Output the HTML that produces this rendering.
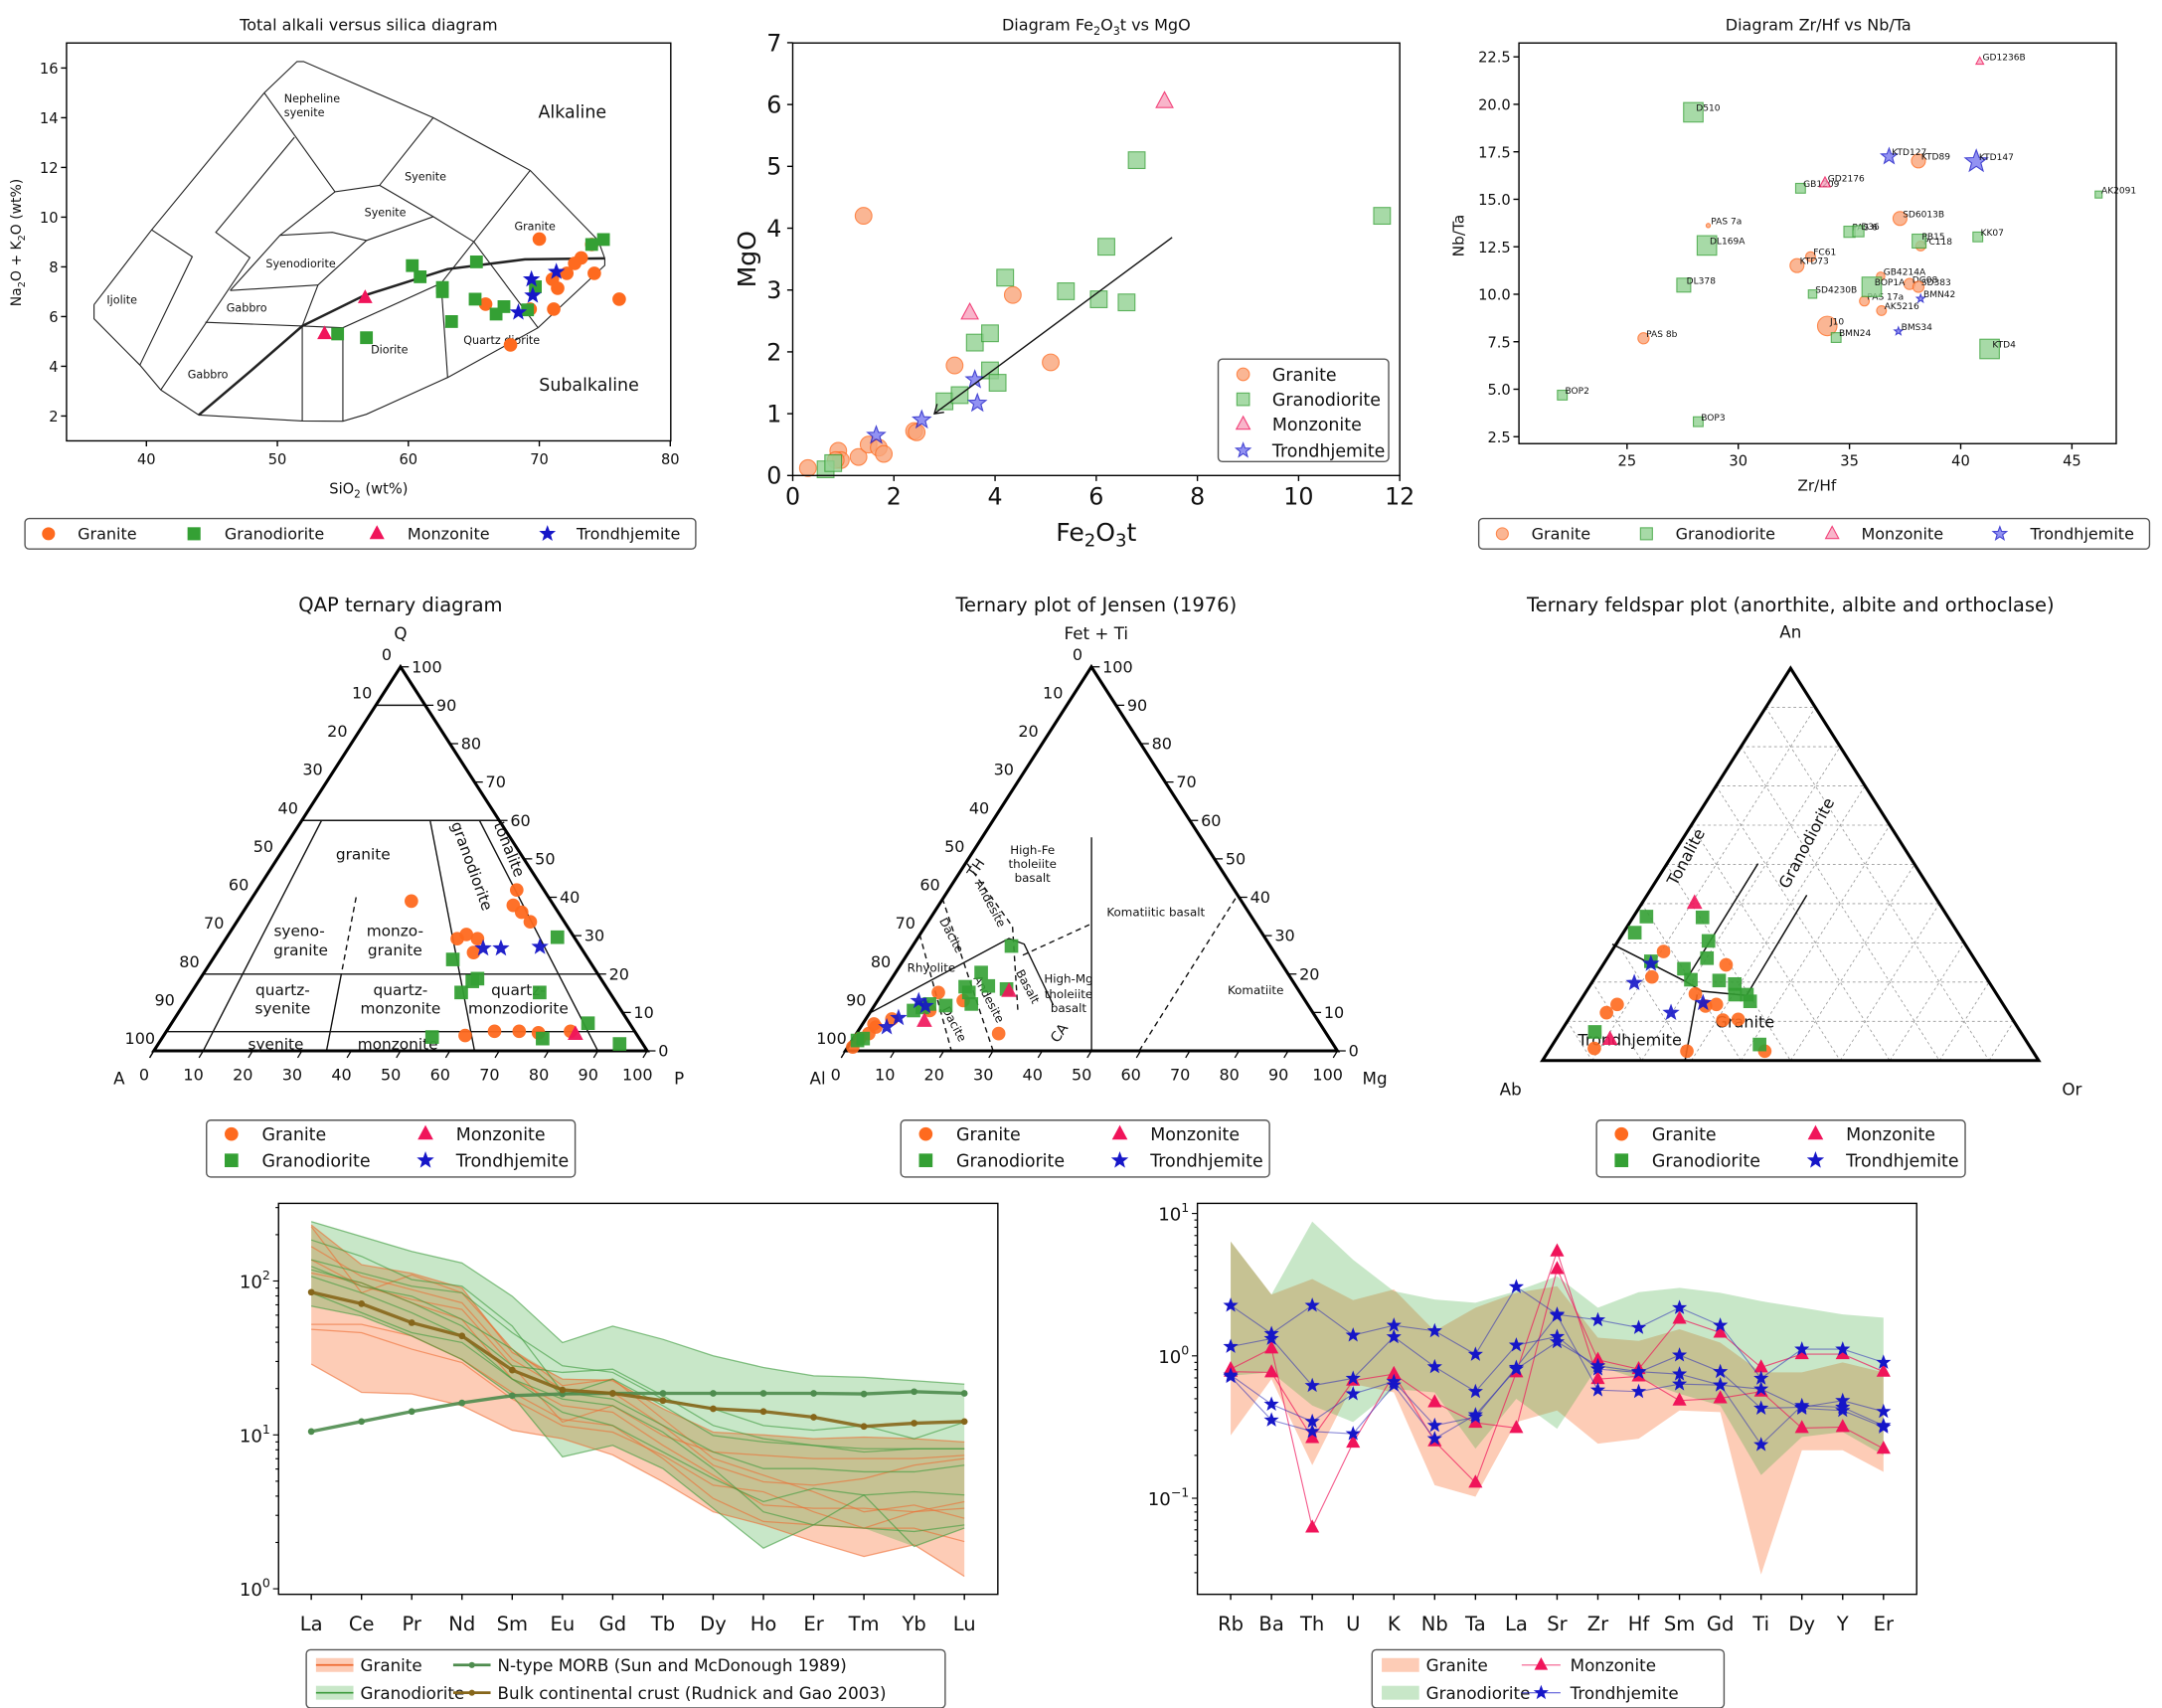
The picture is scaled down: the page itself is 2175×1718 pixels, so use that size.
<!DOCTYPE html>
<html><head><meta charset="utf-8">
<style>
html,body{margin:0;padding:0;background:#fff}
svg{display:block}
text{font-family:"DejaVu Sans","Liberation Sans",sans-serif;fill:#111}
</style></head>
<body>
<svg id="fig" xmlns="http://www.w3.org/2000/svg" width="2175" height="1718" viewBox="0 0 1560 1232" preserveAspectRatio="none"></svg>
<script>
/* ---------------- DATA ---------------- */
// TAS
const tasGraniteSi = [70.0,73.2,72.7,72.1,74.2,71.0,71.4,65.9,69.3,71.1,76.1,67.8,74.0];
const tasGraniteAlk = [9.12,8.36,8.14,7.74,7.74,7.5,7.14,6.5,6.3,6.3,6.7,4.86,8.9];
const tasGranodSi = [74.9,74.0,60.3,60.9,65.2,62.6,62.6,65.1,67.3,66.7,69.1,69.7,63.3,54.6,56.8];
const tasGranodAlk = [9.1,8.9,8.05,7.6,8.2,7.17,7.0,6.7,6.4,6.1,6.27,7.2,5.8,5.3,5.15];
const tasMonzSi = [56.7,53.6];
const tasMonzAlk = [6.75,5.3];
const tasTrondSi = [69.4,71.3,69.5,68.4];
const tasTrondAlk = [7.5,7.8,6.85,6.17];
const tasXTicks = [40,50,60,70,80];
const tasYTicks = [2,4,6,8,10,12,14,16];
// Fe2O3t vs MgO
const fmGraniteFe = [0.3,0.9,0.95,1.3,1.5,1.7,1.8,1.4,2.4,2.45,3.2,4.35,5.1,0.85];
const fmGraniteMg = [0.12,0.4,0.25,0.3,0.5,0.45,0.35,4.2,0.72,0.7,1.78,2.92,1.83,0.25];
const fmGranodFe = [0.65,0.8,3.0,3.3,3.6,3.9,3.9,4.05,4.2,5.4,6.05,6.2,6.6,6.8,11.65];
const fmGranodMg = [0.1,0.2,1.2,1.3,2.15,2.3,1.7,1.5,3.2,2.98,2.85,3.7,2.8,5.1,4.2];
const fmMonzFe = [3.5,7.35];
const fmMonzMg = [2.63,6.05];
const fmTrondFe = [1.65,2.55,3.6,3.65];
const fmTrondMg = [0.65,0.9,1.55,1.17];
const fmXTicks = [0,2,4,6,8,10,12];
const fmYTicks = [0,1,2,3,4,5,6,7];
// Zr/Hf vs Nb/Ta
const zhGraniteX = [38.1,37.27,28.65,38.2,33.25,32.64,36.4,37.7,38.1,35.67,36.44,34.0,25.74];
const zhGraniteY = [17.02,13.99,13.62,12.54,11.98,11.51,10.95,10.54,10.39,9.64,9.14,8.33,7.68];
const zhGraniteLab = ["KTD89","SD6013B","PAS 7a","PC118","FC61","KTD73","GB4214A","DG08","SD383","PAS 17a","AK5216","J10","PAS 8b"];
const zhGraniteSize = [5,5,1.5,3.5,3.5,5,3,4,4,3.5,3.5,7,4];
const zhGranodX = [27.98,32.8,46.2,35.0,35.4,40.77,28.59,38.13,27.55,36.0,33.34,34.4,41.3,22.09,28.2];
const zhGranodY = [19.58,15.58,15.25,13.29,13.32,13.02,12.57,12.8,10.48,10.39,10.01,7.72,7.12,4.69,3.29];
const zhGranodLab = ["D510","GB1209","AK2091","PAS 6","D36","KK07","DL169A","PB15","DL378","BOP1A","SD4230B","BMN24","KTD4","BOP2","BOP3"];
const zhGranodSize = [7,3.5,2.5,4,4,3.5,7,5,5,7,3,3.5,7,3.5,3.5];
const zhMonzX = [40.86,33.9];
const zhMonzY = [22.26,15.86];
const zhMonzLab = ["GD1236B","GD2176"];
const zhMonzSize = [2.5,3.5];
const zhTrondX = [36.78,40.7,38.2,37.2];
const zhTrondY = [17.25,16.99,9.77,8.05];
const zhTrondLab = ["KTD127","KTD147","BMN42","BMS34"];
const zhTrondSize = [5,7,2.5,2.5];
const zhXTicks = [25,30,35,40,45];
const zhYTicks = [2.5,5.0,7.5,10.0,12.5,15.0,17.5,20.0,22.5];
// QAP (Q %, P %)
const qapGraniteQ = [39.0,29.2,30.3,29.2,25.6,41.9,37.9,36.1,33.6,4.0,5.1,5.1,4.7,5.1];
const qapGraniteP = [32.7,46.9,48.2,51.0,52.0,52.6,53.9,56.5,59.5,61.1,66.5,71.5,75.6,81.9];
const qapGranodQ = [23.8,18.1,18.8,15.2,29.6,15.2,7.2,3.2,3.6,1.8];
const qapGranodP = [48.7,55.5,56.2,54.7,67.0,70.6,84.4,77.2,54.6,93.5];
const qapMonzQ = [4.3];
const qapMonzP = [83.3];
const qapTrondQ = [26.7,26.7,27.1];
const qapTrondP = [53.4,57.0,64.7];
// Jensen (Fet+Ti %, Mg %)
const jenGraniteT = [1.0,3.2,4.5,6.2,7.0,8.3,15.2,13.1,10.5,4.5];
const jenGraniteM = [1.0,1.3,2.5,3.1,2.3,5.3,11.3,17.4,11.9,28.9];
const jenGranodT = [2.7,3.2,10.5,12.2,11.8,16.7,15.2,12.2,20.4,16.9,16.1,27.3,11.3];
const jenGranodM = [1.1,2.0,8.6,11.0,14.5,16.0,17.5,19.5,17.4,20.6,24.7,20.1,10.0];
const jenMonzT = [15.5,7.7];
const jenMonzM = [25.5,12.2];
const jenTrondT = [6.2,8.6,13.0,11.7];
const jenTrondM = [5.3,6.5,8.4,10.4];
// Feldspar (An %, Or %)
const fspGraniteAn = [27.8,24.4,21.3,17.0,13.9,14.3,14.3,12.2,10.3,10.5,3.1,2.4,2.4];
const fspGraniteOr = [10.5,24.8,11.4,22.3,25.9,27.9,7.9,6.8,31.2,34.2,8.9,27.9,43.6];
const fspGranodAn = [36.7,32.6,36.5,30.5,26.1,23.4,20.6,25.3,20.4,19.5,16.8,16.8,15.1,7.3,4.1];
const fspGranodOr = [2.6,2.3,14.0,18.2,20.1,16.8,19.6,9.2,25.4,29.0,30.4,32.8,34.3,6.9,41.7];
const fspMonzAn = [40.1,5.4];
const fspMonzOr = [10.6,10.9];
const fspTrondAn = [24.7,19.8,14.7,12.2];
const fspTrondOr = [9.5,8.6,25.0,19.8];
// REE spider (log10 of chondrite-normalised values)
const reeElements = ["La","Ce","Pr","Nd","Sm","Eu","Gd","Tb","Dy","Ho","Er","Tm","Yb","Lu"];
const reeGranite1 = [2.364,2.106,2.05,1.955,1.535,1.363,1.352,1.17,1.018,1.0,0.975,0.986,0.975,0.954];
const reeGranite2 = [1.46,1.276,1.266,1.19,1.03,0.975,0.87,0.695,0.5,0.415,0.307,0.21,0.286,0.081];
const reeGranite3 = [1.718,1.718,1.643,1.49,1.276,1.10,1.06,0.846,0.587,0.437,0.415,0.394,0.394,0.307];
const reeGranite4 = [1.686,1.664,1.557,1.47,1.233,1.06,1.018,0.867,0.673,0.63,0.5,0.394,0.5,0.566];
const reeGranite5 = [2.138,1.966,1.88,1.815,1.449,1.083,1.19,0.996,0.889,0.867,0.846,0.846,0.846,0.867];
const reeGranite6 = [2.354,1.923,2.04,1.923,1.557,1.32,1.363,1.104,0.846,0.738,0.63,0.5,0.544,0.458];
const reeGranite7 = [2.052,1.988,1.858,1.75,1.363,1.19,1.147,0.932,0.738,0.544,0.523,0.523,0.5,0.523];
const reeGranite8 = [2.224,2.03,1.944,1.858,1.49,1.298,1.276,1.06,0.803,0.695,0.673,0.716,0.803,0.846];
const reeGranod1 = [2.386,2.289,2.192,2.117,1.901,1.6,1.707,1.621,1.514,1.438,1.384,1.374,1.352,1.33];
const reeGranod2 = [1.837,1.772,1.643,1.49,1.255,0.857,0.932,0.781,0.523,0.264,0.415,0.609,0.275,0.394];
const reeGranod3 = [2.138,2.052,1.966,1.923,1.664,1.449,1.406,1.233,1.17,1.061,1.03,1.061,0.975,1.083];
const reeGranod4 = [2.073,1.988,1.858,1.707,1.449,1.406,1.427,1.255,1.061,0.975,0.932,0.889,0.91,0.91];
const reeGranod5 = [1.923,1.794,1.664,1.6,1.363,1.147,1.061,0.889,0.716,0.566,0.652,0.609,0.63,0.609];
const reeGranod6 = [2.267,2.16,2.009,1.966,1.707,1.276,1.233,1.061,0.889,0.781,0.781,0.76,0.76,0.803];
const reeGranod7 = [2.03,1.923,1.794,1.643,1.363,1.233,1.19,1.018,0.781,0.5,0.415,0.394,0.372,0.415];
const reeGranod8 = [2.095,1.966,1.901,1.75,1.557,1.255,1.363,1.19,0.996,0.954,0.932,0.91,0.91,0.91];
const reeMorb = [1.022,1.087,1.152,1.208,1.255,1.266,1.27,1.27,1.27,1.27,1.27,1.266,1.281,1.27];
const reeBcc = [1.927,1.852,1.729,1.643,1.421,1.292,1.27,1.223,1.17,1.152,1.115,1.055,1.076,1.087];
const reeYTickExp = [0,1,2];
// Multi-element spider (log10 values)
const spElements = ["Rb","Ba","Th","U","K","Nb","Ta","La","Sr","Zr","Hf","Sm","Gd","Ti","Dy","Y","Er"];
const spGraniteMax = [0.803,0.431,0.54,0.391,0.466,0.175,0.338,0.443,0.489,0.128,0.105,0.187,0.093,-0.116,-0.116,-0.046,-0.116];
const spGraniteMin = [-0.558,-0.163,-0.768,-0.198,-0.256,-0.908,-0.989,-0.465,-0.384,-0.617,-0.582,-0.384,-0.395,-1.536,-0.663,-0.663,-0.815];
const spGranodMax = [0.803,0.431,0.943,0.675,0.454,0.396,0.373,0.454,0.559,0.338,0.447,0.478,0.443,0.384,0.338,0.291,0.268];
const spGranodMin = [-0.139,-0.116,-0.349,-0.465,-0.233,-0.256,-0.652,-0.302,-0.512,-0.07,-0.163,-0.267,-0.349,-0.838,-0.57,-0.535,-0.698];
const spMonz1 = [-0.093,0.052,-1.206,-0.61,-0.128,-0.326,-0.47,-0.507,0.61,-0.028,-0.093,0.261,0.163,-0.081,0.012,0.012,-0.111];
const spMonz2 = [-0.111,-0.116,-0.577,-0.174,-0.128,-0.6,-0.891,-0.116,0.734,-0.163,-0.144,-0.314,-0.298,-0.251,-0.507,-0.5,-0.652];
const spTrond1 = [0.354,0.156,0.354,0.145,0.214,0.175,0.01,0.485,0.291,0.252,0.198,0.338,0.214,-0.158,0.047,0.047,-0.046];
const spTrond2 = [0.065,0.121,-0.209,-0.158,0.133,-0.077,-0.251,0.075,0.135,-0.093,-0.116,0.005,-0.111,-0.368,-0.361,-0.314,-0.391];
const spTrond3 = [-0.135,-0.34,-0.461,-0.267,-0.181,-0.489,-0.43,-0.081,0.284,-0.24,-0.251,-0.198,-0.205,-0.233,-0.368,-0.384,-0.5];
const spTrond4 = [-0.146,-0.451,-0.531,-0.547,-0.205,-0.582,-0.414,-0.093,0.098,-0.07,-0.111,-0.128,-0.205,-0.624,-0.349,-0.361,-0.489];
const spYTickExp = [-1,0,1];

/* ---------------- HELPERS ---------------- */
const NS = 'http://www.w3.org/2000/svg';
const svg = document.getElementById('fig');
function mk(tag, attrs, parent){
  const e = document.createElementNS(NS, tag);
  for (const k in attrs) e.setAttribute(k, attrs[k]);
  (parent || svg).appendChild(e);
  return e;
}
function txt(x, y, s, size, anchor, parent, extra){
  const e = mk('text', Object.assign({x:x, y:y, 'font-size':size, 'text-anchor':anchor||'middle'}, extra||{}), parent);
  e.textContent = s;
  return e;
}
function shape(kind, x, y, s, fill, stroke, op, parent){
  let e;
  if (kind === 'o') e = mk('circle', {cx:x, cy:y, r:s}, parent);
  else if (kind === 's') e = mk('rect', {x:x-s, y:y-s, width:2*s, height:2*s}, parent);
  else if (kind === '^') e = mk('polygon', {points:`${x},${y-s*1.25} ${x-s*1.1},${y+s*0.8} ${x+s*1.1},${y+s*0.8}`}, parent);
  else {
    let p = [];
    for (let i = 0; i < 10; i++) {
      const a = -Math.PI/2 + i*Math.PI/5, r = (i%2===0) ? s*1.2 : s*0.5;
      p.push((x + r*Math.cos(a)).toFixed(2) + ',' + (y + r*Math.sin(a)).toFixed(2));
    }
    e = mk('polygon', {points:p.join(' ')}, parent);
  }
  e.setAttribute('fill', fill);
  e.setAttribute('stroke', stroke);
  e.setAttribute('stroke-width', 0.8);
  e.setAttribute('opacity', op);
  return e;
}
function group(name){
  const g = mk('g', {});
  
  
  return g;
}
function poly(pts, stroke, sw, parent, dash){
  const a = {points: pts.map(p => p[0].toFixed(2)+','+p[1].toFixed(2)).join(' '), fill:'none', stroke:stroke, 'stroke-width':sw};
  if (dash) a['stroke-dasharray'] = dash;
  return mk('polyline', a, parent);
}
const C = {
  gr:'#fe6a1f', gd:'#34a034', mz:'#f0145a', tr:'#1616c8',
  grL:'#f9a57a', gdL:'#92d192', mzL:'#f7a3bd', trL:'#7878f0'
};

/* ---------------- PANEL 1: TAS ---------------- */
(function(){
  const g = group('tas-chart');
  const sx = v => 48 + (v - 33.9) * 9.45;
  const sy = v => 318 - (v - 1.0) * 17.93;
  const t = txt(266, 22, 'Total alkali versus silica diagram', 11.5, 'middle', g);
  
  
  const fields = [
    [[36.0,6.48],[36.0,5.91],[39.5,4.05],[41.1,3.05],[44.0,2.04],[51.9,1.80],[55.0,1.79],[56.8,2.07],[63.0,3.55],[69.9,5.55],[75.0,8.06],[75.0,8.34],[74.5,9.06],[69.3,11.88],[61.9,14.0],[52.0,16.26],[51.5,16.26],[49.0,15.0],[40.4,9.49],[36.0,6.48]],
    [[40.4,9.49],[43.5,8.41],[39.5,4.05]],
    [[49.0,15.0],[54.4,11.02],[57.8,11.28],[61.9,14.0]],
    [[51.3,13.21],[45.3,9.39],[47.9,8.37],[41.1,3.05]],
    [[54.4,11.02],[50.2,9.27],[46.4,7.05]],
    [[57.8,11.28],[61.9,10.02],[65.0,9.01],[69.3,11.88]],
    [[61.9,10.02],[56.8,9.06],[53.1,7.27],[51.9,5.62]],
    [[50.2,9.27],[54.2,9.39],[56.8,9.06]],
    [[53.1,7.27],[46.4,7.05]],
    [[44.5,5.77],[51.9,5.62],[55.0,5.55],[62.5,7.34],[65.0,9.01],[69.9,5.55]],
    [[51.9,5.62],[51.9,1.80]],
    [[55.0,5.55],[55.0,1.79]],
    [[62.5,7.34],[63.0,3.55]]
  ];
  fields.forEach(f => {
    const e = poly(f.map(p => [sx(p[0]), sy(p[1])]), '#222', 0.8, g);
    
    
  });
  const alkCurve = [[44.0,2.04],[48.0,3.83],[51.9,5.62],[56.6,6.84],[63.0,7.91],[68.9,8.30],[75.0,8.34]];
  const ac = poly(alkCurve.map(p => [sx(p[0]), sy(p[1])]), '#222', 1.8, g);
  
  
  const labs = [['Nepheline',205,74,8],['syenite',205,84,8],['Alkaline',413,85,12.5],['Syenite',307,130,8],['Syenite',278,156,8],['Granite',386,166,8],['Syenodiorite',217,193,8],['Ijolite',88,219,8],['Gabbro',178,225,8],['Gabbro',150,273,8],['Diorite',281,255,8],['Quartz diorite',362,248,8],['Subalkaline',425,282,12.5]];
  labs.forEach(l => {
    const e = txt(l[1], l[2], l[0], l[3], l[1]===205 ? 'start' : 'middle', g);
    
    
  });
  const series = [
    [tasGraniteSi, tasGraniteAlk, 'o', C.gr, 4.5, 'tas-granite-point'],
    [tasGranodSi, tasGranodAlk, 's', C.gd, 4.2, 'tas-granodiorite-point'],
    [tasMonzSi, tasMonzAlk, '^', C.mz, 4.2, 'tas-monzonite-point'],
    [tasTrondSi, tasTrondAlk, '*', C.tr, 4.5, 'tas-trondhjemite-point']
  ];
  series.forEach(s => {
    s[0].forEach((v, i) => {
      const e = shape(s[2], sx(v), sy(s[1][i]), s[4], s[3], s[3], 1, g);
      
      
    });
  });
  const fr = mk('rect', {x:48, y:31, width:436, height:287, fill:'none', stroke:'#000', 'stroke-width':1}, g);
  
  
  tasXTicks.forEach(v => {
    const l = mk('line', {x1:sx(v), x2:sx(v), y1:318, y2:322, stroke:'#000'}, g);
    
    
    const e = txt(sx(v), 335, String(v), 10.5, 'middle', g);
    
    
  });
  tasYTicks.forEach(v => {
    const l = mk('line', {x1:44, x2:48, y1:sy(v), y2:sy(v), stroke:'#000'}, g);
    
    
    const e = txt(42, sy(v)+4, String(v), 10.5, 'end', g);
    
    
  });
  const xl = txt(266, 356, '', 10.5, 'middle', g);
  xl.innerHTML = 'SiO<tspan font-size="7.5" dy="3">2</tspan><tspan dy="-3"> (wt%)</tspan>';
  
  
  const yl = txt(15, 175, '', 10, 'middle', g, {transform:'rotate(-90 15 175)'});
  yl.innerHTML = 'Na<tspan font-size="7" dy="3">2</tspan><tspan dy="-3">O + K</tspan><tspan font-size="7" dy="3">2</tspan><tspan dy="-3">O (wt%)</tspan>';
  
  
  const lg = group('tas-legend');
  const lb = mk('rect', {x:18, y:374, width:484, height:22, rx:3, fill:'#fff', stroke:'#555', 'stroke-width':1}, lg);
  
  
  const items = [['o',C.gr,35,'Granite',56],['s',C.gd,140,'Granodiorite',162],['^',C.mz,272,'Monzonite',294],['*',C.tr,395,'Trondhjemite',416]];
  items.forEach(it => {
    const m = shape(it[0], it[2], 385, 4.3, it[1], it[1], 1, lg);
    
    
    const e = txt(it[4], 389, it[3], 11.5, 'start', lg);
    
    
  });
})();

/* ---------------- PANEL 2: Fe2O3t vs MgO ---------------- */
(function(){
  const g = group('fe2o3-mgo-chart');
  const sx = v => 572 + v * 36.5;
  const sy = v => 343 - v * 44.6;
  const t = txt(791, 22, '', 11.5, 'middle', g);
  t.innerHTML = 'Diagram Fe<tspan font-size="8" dy="3">2</tspan><tspan dy="-3">O</tspan><tspan font-size="8" dy="3">3</tspan><tspan dy="-3">t vs MgO</tspan>';
  
  
  const series = [
    [fmGraniteFe, fmGraniteMg, 'o', C.grL, C.gr, 6, 'fm-granite-point'],
    [fmGranodFe, fmGranodMg, 's', C.gdL, C.gd, 6, 'fm-granodiorite-point'],
    [fmMonzFe, fmMonzMg, '^', C.mzL, C.mz, 5.5, 'fm-monzonite-point'],
    [fmTrondFe, fmTrondMg, '*', C.trL, C.tr, 5.5, 'fm-trondhjemite-point']
  ];
  series.forEach(s => {
    s[0].forEach((v, i) => {
      const e = shape(s[2], sx(v), sy(s[1][i]), s[5], s[3], s[4], 0.8, g);
      
      
    });
  });
  const ar = mk('line', {x1:sx(7.5), y1:sy(3.85), x2:sx(2.8), y2:sy(1.0), stroke:'#111', 'stroke-width':1}, g);
  
  
  const ax = sx(2.8), ay = sy(1.0);
  const ah = mk('polyline', {points:`${ax+7},${ay-1} ${ax},${ay} ${ax+2},${ay-7}`, fill:'none', stroke:'#111', 'stroke-width':1}, g);
  
  
  const fr = mk('rect', {x:572, y:31, width:438, height:312, fill:'none', stroke:'#000', 'stroke-width':1}, g);
  
  
  fmXTicks.forEach(v => {
    const l = mk('line', {x1:sx(v), x2:sx(v), y1:343, y2:347, stroke:'#000'}, g);
    
    
    const e = txt(sx(v), 364, String(v), 17, 'middle', g);
    
    
  });
  fmYTicks.forEach(v => {
    const l = mk('line', {x1:568, x2:572, y1:sy(v), y2:sy(v), stroke:'#000'}, g);
    
    
    const e = txt(564, sy(v)+6, String(v), 17, 'end', g);
    
    
  });
  const xl = txt(791, 390, '', 18, 'middle', g);
  xl.innerHTML = 'Fe<tspan font-size="13" dy="4">2</tspan><tspan dy="-4">O</tspan><tspan font-size="13" dy="4">3</tspan><tspan dy="-4">t</tspan>';
  
  
  const yl = txt(545, 187, 'MgO', 18, 'middle', g, {transform:'rotate(-90 545 187)'});
  
  
  const lg = group('fm-legend');
  const lb = mk('rect', {x:879, y:259, width:123, height:74, rx:3, fill:'#fff', stroke:'#555'}, lg);
  
  
  const items = [['o',C.grL,C.gr,'Granite',270],['s',C.gdL,C.gd,'Granodiorite',288],['^',C.mzL,C.mz,'Monzonite',306],['*',C.trL,C.tr,'Trondhjemite',325]];
  items.forEach(it => {
    const m = shape(it[0], 897, it[4], 4.5, it[1], it[2], 0.8, lg);
    
    
    const e = txt(918, it[4]+4.5, it[3], 12.5, 'start', lg);
    
    
  });
})();

/* ---------------- PANEL 3: Zr/Hf vs Nb/Ta ---------------- */
(function(){
  const g = group('zrhf-nbta-chart');
  const sx = v => 1096 + (v - 20.14) * 16.05;
  const sy = v => 315 - (v - 2.5) * 13.7;
  const t = txt(1312, 22, 'Diagram Zr/Hf vs Nb/Ta', 11.5, 'middle', g);
  
  
  const series = [
    [zhGraniteX, zhGraniteY, zhGraniteLab, zhGraniteSize, 'o', C.grL, C.gr, 'zh-granite-point'],
    [zhGranodX, zhGranodY, zhGranodLab, zhGranodSize, 's', C.gdL, C.gd, 'zh-granodiorite-point'],
    [zhMonzX, zhMonzY, zhMonzLab, zhMonzSize, '^', C.mzL, C.mz, 'zh-monzonite-point'],
    [zhTrondX, zhTrondY, zhTrondLab, zhTrondSize, '*', C.trL, C.tr, 'zh-trondhjemite-point']
  ];
  series.forEach(s => {
    s[0].forEach((v, i) => {
      const e = shape(s[4], sx(v), sy(s[1][i]), s[3][i], s[5], s[6], 0.8, g);
      
      
      const l = txt(sx(v)+2, sy(s[1][i])-1, s[2][i], 6.5, 'start', g);
      
      
    });
  });
  const fr = mk('rect', {x:1096, y:31, width:431, height:289, fill:'none', stroke:'#000', 'stroke-width':1}, g);
  
  
  zhXTicks.forEach(v => {
    const l = mk('line', {x1:sx(v), x2:sx(v), y1:320, y2:324, stroke:'#000'}, g);
    
    
    const e = txt(sx(v), 336, String(v), 10.5, 'middle', g);
    
    
  });
  zhYTicks.forEach(v => {
    const l = mk('line', {x1:1092, x2:1096, y1:sy(v), y2:sy(v), stroke:'#000'}, g);
    
    
    const e = txt(1090, sy(v)+4, v.toFixed(1), 10.5, 'end', g);
    
    
  });
  const xl = txt(1311, 354, 'Zr/Hf', 11, 'middle', g);
  
  
  const yl = txt(1056, 170, 'Nb/Ta', 11, 'middle', g, {transform:'rotate(-90 1056 170)'});
  
  
  const lg = group('zh-legend');
  const lb = mk('rect', {x:1067, y:374, width:484, height:22, rx:3, fill:'#fff', stroke:'#555'}, lg);
  
  
  const items = [['o',C.grL,C.gr,1084,'Granite',1105],['s',C.gdL,C.gd,1188,'Granodiorite',1209],['^',C.mzL,C.mz,1322,'Monzonite',1343],['*',C.trL,C.tr,1443,'Trondhjemite',1465]];
  items.forEach(it => {
    const m = shape(it[0], it[3], 385, 4.3, it[1], it[2], 0.8, lg);
    
    
    const e = txt(it[5], 389, it[4], 11.5, 'start', lg);
    
    
  });
})();

/* ---------------- TERNARY HELPERS ---------------- */
function ternaryFrame(g, L, R, T, prefix, withTicks){
  const f = mk('polygon', {points:`${L[0]},${L[1]} ${R[0]},${R[1]} ${T[0]},${T[1]}`, fill:'none', stroke:'#000', 'stroke-width':2.2}, g);
  
  
  if (!withTicks) return;
  for (let v = 0; v <= 100; v += 10) {
    const q = v/100;
    const lx = L[0] + (T[0]-L[0])*q, ly = L[1] + (T[1]-L[1])*q;
    const t1 = mk('line', {x1:lx, y1:ly, x2:lx-3, y2:ly+5, stroke:'#000', 'stroke-width':0.9}, g);
    
    
    const e1 = txt(lx-10, ly-5, String(100 - v), 11.5, 'middle', g);
    
    
    const rx = R[0] + (T[0]-R[0])*q, ry = R[1] + (T[1]-R[1])*q;
    const t2 = mk('line', {x1:rx, y1:ry, x2:rx+6, y2:ry, stroke:'#000', 'stroke-width':0.9}, g);
    
    
    const e2 = txt(rx+8, ry+4, String(v), 11.5, 'start', g);
    
    
    const bx = L[0] + (R[0]-L[0])*q;
    const t3 = mk('line', {x1:bx, y1:L[1], x2:bx-3, y2:L[1]+5, stroke:'#000', 'stroke-width':0.9}, g);
    
    
    const e3 = txt(bx-7, L[1]+21, String(v), 11.5, 'middle', g);
    
    
  }
}
function ternaryLegend(x0, prefix){
  const lg = group(prefix + '-legend');
  const lb = mk('rect', {x:x0, y:808, width:266, height:41, rx:3, fill:'#fff', stroke:'#555'}, lg);
  
  
  const items = [['o',C.gr,x0+18,818,'Granite'],['^',C.mz,x0+158,818,'Monzonite'],['s',C.gd,x0+18,837,'Granodiorite'],['*',C.tr,x0+158,837,'Trondhjemite']];
  items.forEach(it => {
    const m = shape(it[0], it[2], it[3], 4.5, it[1], it[1], 1, lg);
    
    
    const e = txt(it[2]+22, it[3]+4.5, it[4], 12.5, 'start', lg);
    
    
  });
}

/* ---------------- PANEL 4: QAP ---------------- */
(function(){
  const g = group('qap-chart');
  const A = [111,758], P = [467,758], Q = [289,481];
  const pt = (q, p) => [A[0] + (P[0]-A[0])*p + (Q[0]-A[0])*q, A[1] + (Q[1]-A[1])*q];
  const t = txt(289, 441, 'QAP ternary diagram', 14, 'middle', g);
  
  
  const rq = (q, r) => pt(q, (1-q)*r);
  const solid = [
    [[0.9,0],[0.9,1]], [[0.6,0],[0.6,1]], [[0.2,0],[0.2,1]], [[0.05,0],[0.05,1]],
    [[0.6,0.1],[0,0.1]], [[0.2,0.35],[0,0.35]], [[0.6,0.65],[0,0.65]], [[0.6,0.9],[0,0.9]]
  ];
  solid.forEach(s => {
    const e = poly(s.map(p => rq(p[0], p[1])), '#111', 1, g);
    
    
  });
  const d = poly([rq(0.4,0.35), rq(0.2,0.35)], '#111', 1, g, '4,3');
  
  
  ternaryFrame(g, A, P, Q, 'qap', true);
  const labs = [['granite',262,620,0],['syeno-',216,675,0],['granite',217,689,0],['monzo-',285,675,0],['granite',285,689,0],['quartz-',204,718,0],['syenite',204,731,0],['quartz-',289,718,0],['monzonite',289,731,0],['quartz-',374,718,0],['monzodiorite',374,731,0],['syenite',199,757,0],['monzonite',287,757,0],['granodiorite',337,626,70],['tonalite',364,614,68]];
  labs.forEach(l => {
    const e = txt(l[1], l[2], l[0], 11, 'middle', g, l[3] ? {transform:`rotate(${l[3]} ${l[1]} ${l[2]})`, fill:'#888'} : {fill:'#888'});
    
    
  });
  [['Q',289,461],['A',86,782],['P',490,782]].forEach(l => {
    const e = txt(l[1], l[2], l[0], 12, 'middle', g);
    
    
  });
  const series = [
    [qapGraniteQ, qapGraniteP, 'o', C.gr, 'qap-granite-point'],
    [qapGranodQ, qapGranodP, 's', C.gd, 'qap-granodiorite-point'],
    [qapMonzQ, qapMonzP, '^', C.mz, 'qap-monzonite-point'],
    [qapTrondQ, qapTrondP, '*', C.tr, 'qap-trondhjemite-point']
  ];
  series.forEach(s => {
    s[0].forEach((q, i) => {
      const p = pt(q/100, s[1][i]/100);
      const e = shape(s[2], p[0], p[1], 4.5, s[3], s[3], 0.95, g);
      
      
    });
  });
  ternaryLegend(149, 'qap');
})();

/* ---------------- PANEL 5: Jensen ---------------- */
(function(){
  const g = group('jensen-chart');
  const L = [610,758], R = [965,758], T = [787.5,481];
  const pt = (t, m) => [L[0] + (R[0]-L[0])*m + (T[0]-L[0])*t, L[1] + (T[1]-L[1])*t];
  const tt = txt(791, 441, 'Ternary plot of Jensen (1976)', 14, 'middle', g);
  
  
  const solid = [
    [[787.6,604],[787.6,758]],
    [[629,730],[728,677],[739,681],[760,725]]
  ];
  solid.forEach(s => {
    const e = poly(s, '#111', 1, g);
    
    
  });
  const dashed = [
    [[738,689],[786,667]],
    [[663.6,674],[686.5,758]],
    [[680,648],[716.6,758]],
    [[698,623],[730.6,668.4],[734.5,730]],
    [[822,758],[891.5,648]]
  ];
  dashed.forEach(s => {
    const e = poly(s, '#111', 1, g, '4,3');
    
    
  });
  ternaryFrame(g, L, R, T, 'jensen', true);
  const labs = [['High-Fe',745,616,0,8.5],['tholeiite',745,626,0,8.5],['basalt',745,636,0,8.5],['Komatiitic basalt',834,661,0,8.5],['Komatiite',906,717,0,8.5],['High-Mg',771,709,0,8.5],['tholeiite',771,720,0,8.5],['basalt',771,730,0,8.5],['Rhyolite',672,701,0,8.5],['TH',707,628,-55,10],['CA',767,747,-55,10],['Andesite',712,653,62,8.5],['Dacite',684,676,62,8.5],['Basalt',739,713,62,8.5],['Andesite',711,722,62,8.5],['Dacite',686,740,62,8.5]];
  labs.forEach(l => {
    const e = txt(l[1], l[2], l[0], l[4], 'middle', g, l[3] ? {transform:`rotate(${l[3]} ${l[1]} ${l[2]})`} : {});
    
    
  });
  [['Fet + Ti',791,461],['Al',590,782],['Mg',992,782]].forEach(l => {
    const e = txt(l[1], l[2], l[0], 12, 'middle', g);
    
    
  });
  const series = [
    [jenGraniteT, jenGraniteM, 'o', C.gr, 'jensen-granite-point'],
    [jenGranodT, jenGranodM, 's', C.gd, 'jensen-granodiorite-point'],
    [jenMonzT, jenMonzM, '^', C.mz, 'jensen-monzonite-point'],
    [jenTrondT, jenTrondM, '*', C.tr, 'jensen-trondhjemite-point']
  ];
  series.forEach(s => {
    s[0].forEach((t, i) => {
      const p = pt(t/100, s[1][i]/100);
      const e = shape(s[2], p[0], p[1], 4.5, s[3], s[3], 0.9, g);
      
      
    });
  });
  ternaryLegend(650, 'jensen');
})();

/* ---------------- PANEL 6: Feldspar ---------------- */
(function(){
  const g = group('feldspar-chart');
  const Ab = [1113,765], Or = [1471,765], An = [1292,482];
  const pt = (a, o) => [Ab[0] + (Or[0]-Ab[0])*o + (An[0]-Ab[0])*a, Ab[1] + (An[1]-Ab[1])*a];
  const tt = txt(1292, 441, 'Ternary feldspar plot (anorthite, albite and orthoclase)', 14, 'middle', g);
  
  
  for (let k = 1; k < 10; k++) {
    const f = k/10;
    const lines = [[pt(f,0), pt(f,1-f)], [pt(0,f), pt(1-f,f)], [pt(f,0), pt(0,f)]];
    lines.forEach(l => {
      const e = poly(l, '#999', 0.6, g, '2,2');
      
      
    });
  }
  const fl = [
    [[1163.4,681],[1216,707.8],[1228,715],[1260.2,718]],
    [[1216,707.8],[1268.5,622.9]],
    [[1260.2,718],[1303.7,645.7]],
    [[1224.6,717.4],[1215.9,764.7]]
  ];
  fl.forEach(s => {
    const e = poly(s, '#111', 1.1, g);
    
    
  });
  ternaryFrame(g, Ab, Or, An, 'feldspar', false);
  const labs = [['Tonalite',1220,620,-62],['Granodiorite',1307,610,-62],['Trondhjemite',1176,754,0],['Granite',1259,741,0]];
  labs.forEach(l => {
    const e = txt(l[1], l[2], l[0], 11.5, 'middle', g, l[3] ? {transform:`rotate(${l[3]} ${l[1]} ${l[2]})`} : {});
    
    
  });
  [['An',1292,460],['Ab',1090,790],['Or',1495,790]].forEach(l => {
    const e = txt(l[1], l[2], l[0], 12, 'middle', g);
    
    
  });
  const series = [
    [fspGraniteAn, fspGraniteOr, 'o', C.gr, 'feldspar-granite-point'],
    [fspGranodAn, fspGranodOr, 's', C.gd, 'feldspar-granodiorite-point'],
    [fspMonzAn, fspMonzOr, '^', C.mz, 'feldspar-monzonite-point'],
    [fspTrondAn, fspTrondOr, '*', C.tr, 'feldspar-trondhjemite-point']
  ];
  series.forEach(s => {
    s[0].forEach((a, i) => {
      const p = pt(a/100, s[1][i]/100);
      const e = shape(s[2], p[0], p[1], 4.5, s[3], s[3], 0.9, g);
      
      
    });
  });
  ternaryLegend(1152, 'feldspar');
})();

/* ---------------- SPIDER HELPERS ---------------- */
function logAxis(g, x0, y0, y1, fy, exps, minE, maxE, prefix){
  for (let e = minE; e <= maxE; e++) {
    for (let m = 1; m < 10; m++) {
      const v = e + Math.log10(m);
      const y = fy(v);
      if (y < y0 - 0.5 || y > y1 + 0.5) continue;
      const l = mk('line', {x1:x0 - (m===1 ? 4 : 2.2), x2:x0, y1:y, y2:y, stroke:'#000', 'stroke-width':0.8}, g);
      
      
    }
  }
  exps.forEach(ex => {
    const y = fy(ex);
    const t = txt(x0 - 6, y + 5, '', 13, 'end', g);
    t.innerHTML = '10<tspan font-size="9" dy="-6">' + (ex < 0 ? '\u2212' + (-ex) : ex) + '</tspan>';
    
    
  });
}
function envelope(arrs){
  const n = arrs[0].length, mx = [], mn = [];
  for (let i = 0; i < n; i++) {
    mx.push(Math.max(...arrs.map(a => a[i])));
    mn.push(Math.min(...arrs.map(a => a[i])));
  }
  return [mx, mn];
}
function band(g, xs, fy, mx, mn, color, op){
  const pts = mx.map((v, i) => [xs(i), fy(v)]).concat(mn.map((v, i) => [xs(i), fy(v)]).reverse());
  return mk('polygon', {points:pts.map(p => p[0].toFixed(2)+','+p[1].toFixed(2)).join(' '), fill:color, 'fill-opacity':op, stroke:'none'}, g);
}

/* ---------------- PANEL 7: REE ---------------- */
(function(){
  const g = group('ree-spider-chart');
  const xs = i => 224.6 + i * 36.25;
  const fy = e => 924 - (e - 2) * 111;
  const grArr = [reeGranite1,reeGranite2,reeGranite3,reeGranite4,reeGranite5,reeGranite6,reeGranite7,reeGranite8];
  const gdArr = [reeGranod1,reeGranod2,reeGranod3,reeGranod4,reeGranod5,reeGranod6,reeGranod7,reeGranod8];
  const eg = envelope(grArr), ed = envelope(gdArr);
  const b1 = band(g, xs, fy, eg[0], eg[1], '#f97a3f', 0.38);
  
  
  const b2 = band(g, xs, fy, ed[0], ed[1], '#3aa83a', 0.28);
  
  
  grArr.forEach(a => {
    const e = poly(a.map((v, i) => [xs(i), fy(v)]), '#ef6a30', 0.9, g);
    e.setAttribute('opacity', 0.6);
    
    
  });
  gdArr.forEach(a => {
    const e = poly(a.map((v, i) => [xs(i), fy(v)]), '#3a9a3a', 0.9, g);
    e.setAttribute('opacity', 0.6);
    
    
  });
  [[reeMorb, '#4e8c4e', 'ree-morb-line'], [reeBcc, '#86661a', 'ree-bcc-line']].forEach(s => {
    const e = poly(s[0].map((v, i) => [xs(i), fy(v)]), s[1], 2.4, g);
    e.setAttribute('opacity', 0.9);
    
    
    s[0].forEach((v, i) => {
      const c = mk('circle', {cx:xs(i), cy:fy(v), r:2.4, fill:s[1]}, g);
      
      
    });
  });
  const fr = mk('rect', {x:201, y:868, width:519, height:282, fill:'none', stroke:'#000', 'stroke-width':1}, g);
  
  
  logAxis(g, 201, 868, 1150, fy, reeYTickExp, -1, 2, 'ree');
  reeElements.forEach((el, i) => {
    const l = mk('line', {x1:xs(i), x2:xs(i), y1:1150, y2:1154, stroke:'#000'}, g);
    
    
    const t = txt(xs(i), 1176, el, 14, 'middle', g);
    
    
  });
  const lg = group('ree-legend');
  const lb = mk('rect', {x:221, y:1190, width:461, height:42, rx:3, fill:'#fff', stroke:'#555'}, lg);
  
  
  [['#f97a3f',0.38,'#ef6a30',1201,'Granite'],['#3aa83a',0.28,'#3a9a3a',1221,'Granodiorite']].forEach(it => {
    const p = mk('rect', {x:228, y:it[3]-5, width:27, height:10, fill:it[0], 'fill-opacity':it[1]}, lg);
    
    
    const l = mk('line', {x1:228, x2:255, y1:it[3], y2:it[3], stroke:it[2], 'stroke-width':1.2}, lg);
    
    
    const t = txt(260, it[3]+4.5, it[4], 12, 'start', lg);
    
    
  });
  [['#4e8c4e',1201,'N-type MORB (Sun and McDonough 1989)'],['#86661a',1221,'Bulk continental crust (Rudnick and Gao 2003)']].forEach(it => {
    const l = mk('line', {x1:327, x2:354, y1:it[1], y2:it[1], stroke:it[0], 'stroke-width':2}, lg);
    
    
    const c = mk('circle', {cx:340.5, cy:it[1], r:2.2, fill:it[0]}, lg);
    
    
    const t = txt(359, it[1]+4.5, it[2], 12, 'start', lg);
    
    
  });
})();

/* ---------------- PANEL 8: multi-element spider ---------------- */
(function(){
  const g = group('multielement-spider-chart');
  const xs = i => 888 + i * 29.44;
  const fy = e => 978 - e * 102.7;
  const b1 = band(g, xs, fy, spGraniteMax, spGraniteMin, '#f97a3f', 0.38);
  
  
  const b2 = band(g, xs, fy, spGranodMax, spGranodMin, '#3aa83a', 0.28);
  
  
  [spMonz1, spMonz2].forEach(a => {
    const e = poly(a.map((v, i) => [xs(i), fy(v)]), '#f0145a', 0.8, g);
    e.setAttribute('opacity', 0.7);
    
    
    a.forEach((v, i) => {
      const m = shape('^', xs(i), fy(v), 4, '#f0145a', '#f0145a', 1, g);
      
      
    });
  });
  [spTrond1, spTrond2, spTrond3, spTrond4].forEach(a => {
    const e = poly(a.map((v, i) => [xs(i), fy(v)]), '#2a2ab8', 0.8, g);
    e.setAttribute('opacity', 0.55);
    
    
    a.forEach((v, i) => {
      const m = shape('*', xs(i), fy(v), 3.8, '#1616c8', '#1616c8', 1, g);
      
      
    });
  });
  const fr = mk('rect', {x:864, y:868, width:519, height:282, fill:'none', stroke:'#000', 'stroke-width':1}, g);
  
  
  logAxis(g, 864, 868, 1150, fy, spYTickExp, -2, 1, 'spider');
  spElements.forEach((el, i) => {
    const l = mk('line', {x1:xs(i), x2:xs(i), y1:1150, y2:1154, stroke:'#000'}, g);
    
    
    const t = txt(xs(i), 1176, el, 14, 'middle', g);
    
    
  });
  const lg = group('spider-legend');
  const lb = mk('rect', {x:990, y:1190, width:254, height:42, rx:3, fill:'#fff', stroke:'#555'}, lg);
  
  
  [['#f97a3f',0.38,1201,'Granite'],['#3aa83a',0.28,1221,'Granodiorite']].forEach(it => {
    const p = mk('rect', {x:997, y:it[2]-5, width:27, height:10, fill:it[0], 'fill-opacity':it[1]}, lg);
    
    
    const t = txt(1029, it[2]+4.5, it[3], 12, 'start', lg);
    
    
  });
  [['^','#f0145a',1201,'Monzonite'],['*','#1616c8',1221,'Trondhjemite']].forEach(it => {
    const l = mk('line', {x1:1098, x2:1126, y1:it[2], y2:it[2], stroke:it[1], 'stroke-width':0.8, opacity:0.7}, lg);
    
    
    const m = shape(it[0], 1112, it[2], 3.8, it[1], it[1], 1, lg);
    
    
    const t = txt(1133, it[2]+4.5, it[3], 12, 'start', lg);
    
    
  });
})();
</script>
</body></html>
